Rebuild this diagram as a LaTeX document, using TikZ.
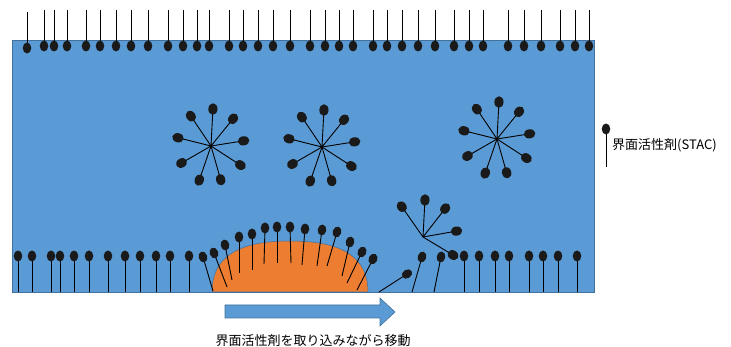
\documentclass[tikz,border=0pt]{standalone}
\usepackage{fontspec}
\setmainfont{Noto Sans CJK JP}
\definecolor{water}{HTML}{5B9BD5}
\definecolor{waterline}{HTML}{41719C}
\definecolor{oil}{HTML}{ED7D31}
\definecolor{headcol}{HTML}{1A1A1A}

\begin{document}
\begin{tikzpicture}[x=1pt, y=-1pt, every node/.style={font=\fontsize{13}{15}\selectfont, inner sep=0pt}]
\tikzstyle{tail}=[draw=black, line width=0.9pt]
\tikzstyle{head}=[fill=headcol]
\tikzstyle{panel}=[fill=water, draw=waterline, line width=0.6pt]
\useasboundingbox (0,0) rectangle (731,347);
\path[panel] (12,40) rectangle (594,292);
\path[fill=oil, draw=waterline, line width=0.5pt] (212,292) .. controls (212,250) and (250,241) .. (290,241) .. controls (330,241) and (368,250) .. (368,292) -- cycle;
\foreach \x in {44,54,67,86,100,116,131,148,168,183,197,209,229,243,258,273,290,310,325,339,353,373,387,402,418,435,454,469,483,508,524,541,560,575,589} {
  \draw[tail] (\x,46) -- (\x,10);
  \fill[head] (\x,46) ellipse (4.3 and 5.5);
}
\draw[tail] (27,48) -- (27,12);
\fill[head] (27,48) ellipse (4.3 and 5.5);
\foreach \cx/\cy in {211/146,322/147,497/139} {
  \begin{scope}[shift={(\cx,\cy)}]
    \foreach \a/\r in {9/33,51/35,87/37,124/36,166/34,210/34,251/36,286/35,327/35} {
      \draw[tail] (0,0) -- (-\a:\r);
      \fill[head, rotate around={\a-90:(-\a:\r)}] (-\a:\r) ellipse (4.6 and 5.8);
    }
  \end{scope}
}
\begin{scope}[shift={(423,237)}]
  \foreach \a/\r in {10/34,52/36,87/37,125/37,329/35} {
    \draw[tail] (0,0) -- (-\a:\r);
    \fill[head, rotate around={\a-90:(-\a:\r)}] (-\a:\r) ellipse (4.6 and 5.8);
  }
\end{scope}
\foreach \x in {18,32,51,60,74,89,108,125,140,156,170,189,464,479,495,509,529,543,558,577} {
  \draw[tail] (\x,256) -- (\x,292);
  \fill[head] (\x,256) ellipse (4.3 and 5.5);
}
\foreach \hx/\hy/\tx/\ty in {203/257/213/291,214/253/227/287,225/245/232/280,239/237/239/273,252/234/252/270,265/228/264/264,277/227/277/263,290/227/291/263,305/229/302/265,322/230/317/266,337/232/327/266,350/242/342/276,362/252/347/283,373/259/357/290,422/257/412/292,441/257/434/292,407/274/379/292} {
  \pgfmathsetmacro\ang{atan2(\tx-\hx,\ty-\hy)}
  \draw[tail] (\hx,\hy) -- (\tx,\ty);
  \fill[head, rotate around={\ang:(\hx,\hy)}] (\hx,\hy) ellipse (4.3 and 5.5);
}
\path[panel] (225,305) -- (380,305) -- (380,298) -- (395,312) -- (380,326) -- (380,318) -- (225,318) -- cycle;
\node (caption) at (313,341) {界面活性剤を取り込みながら移動};
\draw[tail] (606,129) -- (606,167);
\fill[head] (606,129) ellipse (4.3 and 5.5);
\node[anchor=west] (legend) at (612,145) {界面活性剤(STAC)};
\end{tikzpicture}
\end{document}
